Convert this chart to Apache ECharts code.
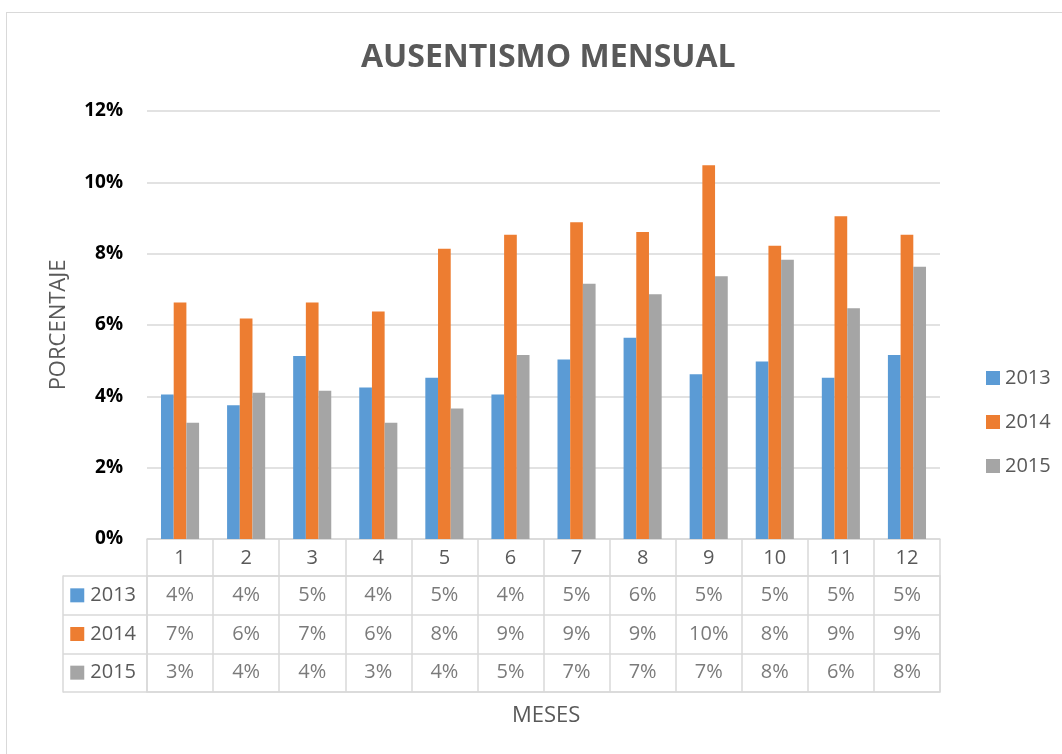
<!DOCTYPE html>
<html>
<head>
<meta charset="utf-8">
<script src="https://cdn.jsdelivr.net/npm/echarts@6/dist/echarts.min.js"></script>
<style>
  html, body { margin: 0; padding: 0; background: #fff; overflow: hidden; }
  #frame { position: absolute; left: 6px; top: 12px; width: 1100px; height: 800px; border: 1px solid #d9d9d9; pointer-events: none; }
  #chart { position: absolute; left: 0; top: 0; width: 1062px; height: 754px; }
</style>
</head>
<body>
<div id="frame"></div>
<div id="chart"></div>
<script>
// datos (porcentaje)
const months = ["1", "2", "3", "4", "5", "6", "7", "8", "9", "10", "11", "12"]
const years = ["2013", "2014", "2015"]
const data2013 = [4.05, 3.75, 5.13, 4.25, 4.52, 4.05, 5.03, 5.64, 4.62, 4.98, 4.52, 5.16]
const data2014 = [6.63, 6.18, 6.63, 6.38, 8.14, 8.53, 8.88, 8.61, 10.48, 8.22, 9.05, 8.53]
const data2015 = [3.26, 4.10, 4.16, 3.26, 3.66, 5.16, 7.16, 6.86, 7.37, 7.83, 6.47, 7.63]
const colors = ["#5B9BD5", "#ED7D31", "#A5A5A5"]

const font = "'Open Sans', sans-serif"
const gray = "#595959"
const lineCol = "#D9D9D9"

const allData = [data2013, data2014, data2015]

// celdas de la tabla: [mes, fila, valor]
const cells = []
allData.forEach((arr, r) => {
  arr.forEach((v, m) => cells.push([m, r, v]))
})

const chart = echarts.init(document.getElementById("chart"))

chart.setOption({
  animation: false,
  textStyle: { fontFamily: font },
  title: [
    {
      text: "AUSENTISMO MENSUAL",
      left: 356,
      top: 37,
      textStyle: { fontFamily: font, fontSize: 32, fontWeight: "bold", color: gray }
    },
    {
      text: "MESES",
      left: 507,
      top: 700,
      textStyle: { fontFamily: font, fontSize: 22, fontWeight: "normal", color: gray }
    }
  ],
  // titulo del eje vertical
  graphic: [
    {
      type: "text",
      x: 59,
      y: 325,
      rotation: Math.PI / 2,
      style: {
        text: "PORCENTAJE",
        fontFamily: font,
        fontSize: 22,
        fill: gray,
        align: "center",
        verticalAlign: "middle"
      }
    }
  ],
  legend: {
    data: years,
    orient: "vertical",
    left: 981,
    top: 363,
    itemWidth: 14,
    itemHeight: 14,
    itemGap: 24,
    icon: "rect",
    textStyle: { fontFamily: font, fontSize: 20, color: gray }
  },
  grid: [
    { left: 147, right: 122, top: 111, bottom: 215 },
    { left: 147, right: 122, top: 576, bottom: 62, show: true, borderColor: lineCol, borderWidth: 1.5 }
  ],
  xAxis: [
    {
      type: "category",
      gridIndex: 0,
      data: months,
      axisLine: { lineStyle: { color: lineCol, width: 1.5 } },
      axisTick: { show: true, length: 37, interval: 0, lineStyle: { color: lineCol, width: 1.5 } },
      axisLabel: { margin: 9, fontSize: 20, color: gray, fontFamily: font, interval: 0 }
    },
    {
      type: "category",
      gridIndex: 1,
      data: months,
      axisLine: { show: false },
      axisTick: { show: false },
      axisLabel: { show: false },
      splitLine: { show: true, interval: 0, lineStyle: { color: lineCol, width: 1.5 } }
    }
  ],
  yAxis: [
    {
      type: "value",
      gridIndex: 0,
      min: 0,
      max: 12,
      interval: 2,
      axisLine: { show: false },
      axisTick: { show: false },
      axisLabel: { margin: 24, fontSize: 19, fontWeight: "bold", color: "#000", fontFamily: font, formatter: "{value}%" },
      splitLine: { lineStyle: { color: lineCol, width: 1.5 } }
    },
    {
      type: "category",
      gridIndex: 1,
      data: years,
      inverse: true,
      axisLine: { show: false },
      axisTick: { show: true, length: 84, interval: 0, lineStyle: { color: lineCol, width: 1.5 } },
      axisLabel: {
        margin: 11,
        fontSize: 20,
        color: gray,
        fontFamily: font,
        formatter: v => "{s" + years.indexOf(v) + "|}{t|" + v + "}",
        rich: {
          s0: { width: 14, height: 14, backgroundColor: colors[0] },
          s1: { width: 14, height: 14, backgroundColor: colors[1] },
          s2: { width: 14, height: 14, backgroundColor: colors[2] },
          t: { fontSize: 20, color: gray, fontFamily: font, padding: [0, 0, 0, 6] }
        }
      },
      splitLine: { show: true, interval: 0, lineStyle: { color: lineCol, width: 1.5 } }
    },
    {
      // borde izquierdo de la columna de encabezados
      type: "category",
      gridIndex: 1,
      data: years,
      position: "left",
      offset: 84,
      axisLine: { show: true, lineStyle: { color: lineCol, width: 1.5 } },
      axisTick: { show: false },
      axisLabel: { show: false }
    }
  ],
  series: [
    ...years.map((y, i) => ({
      name: y,
      type: "bar",
      xAxisIndex: 0,
      yAxisIndex: 0,
      data: allData[i],
      barWidth: 12.7,
      barGap: "0%",
      itemStyle: { color: colors[i] }
    })),
    {
      type: "scatter",
      xAxisIndex: 1,
      yAxisIndex: 1,
      data: cells,
      symbolSize: 1,
      itemStyle: { color: "transparent" },
      silent: true,
      label: {
        show: true,
        position: "inside",
        fontSize: 20,
        color: gray,
        fontFamily: font,
        formatter: p => Math.round(p.value[2]) + "%"
      }
    }
  ]
})
</script>
</body>
</html>
